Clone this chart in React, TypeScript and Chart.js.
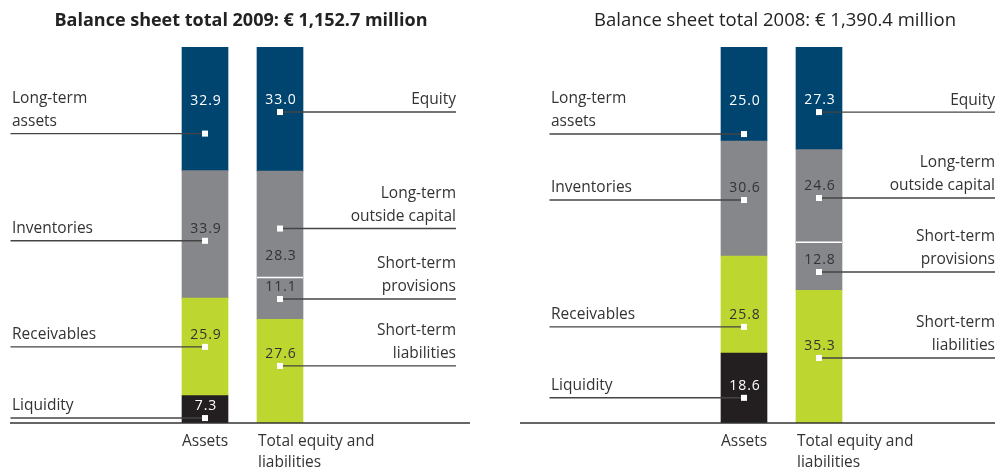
import React, { useEffect, useRef } from "react";
import { Chart, registerables } from "chart.js";

Chart.register(...registerables);

// ---------- data ----------
const categoryLines: string[][] = [["Assets"], ["Total equity and", "liabilities"]];

// bottom -> top
const assetNames: string[][] = [["Liquidity"], ["Receivables"], ["Inventories"], ["Long-term", "assets"]];
const liabilityNames: string[][] = [
  ["Short-term", "liabilities"],
  ["Short-term", "provisions"],
  ["Long-term", "outside capital"],
  ["Equity"],
];

const assets2009 = [7.3, 25.9, 33.9, 32.9];
const liabilities2009 = [27.6, 11.1, 28.3, 33.0];
const assets2008 = [18.6, 25.8, 30.6, 25.0];
const liabilities2008 = [35.3, 12.8, 24.6, 27.3];

const title2009 = "Balance sheet total 2009: € 1,152.7 million";
const title2008 = "Balance sheet total 2008: € 1,390.4 million";

// ---------- styles / layout ----------
const NAVY = "#004470";
const GRAY = "#86878b";
const GREEN = "#bed630";
const BLACK = "#231f20";
const TEXT = "#333333";
const assetColors = [BLACK, GREEN, GRAY, NAVY];
const liabilityColors = [GREEN, GRAY, GRAY, NAVY];
const assetTextColors = ["#ffffff", TEXT, TEXT, "#ffffff"];
const liabilityTextColors = [TEXT, TEXT, TEXT, "#ffffff"];

const FONT = '"Open Sans", "Noto Sans", sans-serif';

type Panel = {
  title: string;
  bold: boolean;
  titleSize: number;
  assets: number[];
  liabilities: number[];
  assetFrac: number[]; // leader position inside each segment (fraction from its top)
  liabFrac: number[];
  assetNum: string[]; // where the value sits relative to the marker
  liabNum: string[];
  left: number;
  width: number;
  padLeft: number;
  titleX: number;
  baseFrom: number;
  baseTo: number;
};

const panels: Panel[] = [
  {
    title: title2009,
    bold: true,
    titleSize: 18,
    assets: assets2009,
    liabilities: liabilities2009,
    assetFrac: [0.82, 0.5, 0.55, 0.7],
    liabFrac: [0.45, 0.516, 0.54, 0.524],
    assetNum: ["above", "above", "above", "top"],
    liabNum: ["above", "above", "below", "above"],
    left: 0,
    width: 490,
    padLeft: 167.5,
    titleX: 241,
    baseFrom: 10,
    baseTo: 470,
  },
  {
    title: title2008,
    bold: false,
    titleSize: 18.5,
    assets: assets2008,
    liabilities: liabilities2008,
    assetFrac: [0.64, 0.73, 0.513, 0.926],
    liabFrac: [0.51, 0.62, 0.523, 0.634],
    assetNum: ["above", "above", "above", "top"],
    liabNum: ["above", "above", "above", "above"],
    left: 510,
    width: 488,
    padLeft: 196.5,
    titleX: 265,
    baseFrom: 10,
    baseTo: 485,
  },
];

function makePlugin(p: Panel) {
  return {
    id: "balanceAnnotations",
    afterDatasetsDraw(chart: any) {
      const ctx: CanvasRenderingContext2D = chart.ctx;
      const area = chart.chartArea;
      const labelLeftX = area.left - 155.5;
      const labelRightX = area.right + 138.5;
      ctx.save();

      // separator between the two gray liability segments
      const stp = chart.getDatasetMeta(5).data[1];
      if (stp) {
        ctx.strokeStyle = "#ffffff";
        ctx.lineWidth = 1.5;
        ctx.beginPath();
        ctx.moveTo(stp.x - stp.width / 2, stp.y);
        ctx.lineTo(stp.x + stp.width / 2, stp.y);
        ctx.stroke();
      }

      // baseline
      ctx.strokeStyle = "#333333";
      ctx.lineWidth = 1.5;
      ctx.beginPath();
      ctx.moveTo(p.baseFrom, area.bottom);
      ctx.lineTo(p.baseTo, area.bottom);
      ctx.stroke();

      const items: any[] = [];
      for (let i = 0; i < 4; i++) {
        items.push({ ds: i, idx: 0, frac: p.assetFrac[i], num: p.assetNum[i], value: p.assets[i], names: assetNames[i], color: assetTextColors[i], side: "left" });
        items.push({ ds: 4 + i, idx: 1, frac: p.liabFrac[i], num: p.liabNum[i], value: p.liabilities[i], names: liabilityNames[i], color: liabilityTextColors[i], side: "right" });
      }

      for (const it of items) {
        const el = chart.getDatasetMeta(it.ds).data[it.idx];
        if (!el) continue;
        const top = el.y;
        const bottom = el.base;
        const sq = top + (bottom - top) * it.frac;
        const cx = el.x;
        // leader line
        ctx.strokeStyle = "#444444";
        ctx.lineWidth = 1.4;
        ctx.beginPath();
        if (it.side === "left") {
          ctx.moveTo(labelLeftX - 1.5, sq);
          ctx.lineTo(cx, sq);
        } else {
          ctx.moveTo(cx, sq);
          ctx.lineTo(labelRightX, sq);
        }
        ctx.stroke();
        // white square marker
        ctx.fillStyle = "#ffffff";
        ctx.fillRect(cx - 3, sq - 3, 6, 6);
        // value
        let numY = sq - 12;
        if (it.num === "top") numY = top + 54;
        else if (it.num === "below") numY = sq + 27;
        ctx.font = `14px ${FONT}`;
        (ctx as any).letterSpacing = "1px";
        ctx.fillStyle = it.color;
        ctx.textAlign = "center";
        ctx.textBaseline = "middle";
        ctx.fillText(it.value.toFixed(1), cx + 1, numY);
        (ctx as any).letterSpacing = "0px";
        // name label
        ctx.font = `15.5px ${FONT}`;
        ctx.fillStyle = TEXT;
        ctx.textAlign = it.side === "left" ? "left" : "right";
        const lines: string[] = it.names;
        const x = it.side === "left" ? labelLeftX : labelRightX;
        lines.forEach((ln, k) => {
          const y = sq - 12 - (lines.length - 1 - k) * 23;
          ctx.fillText(ln, x, y);
        });
      }

      // category labels
      ctx.font = `15.5px ${FONT}`;
      ctx.fillStyle = TEXT;
      ctx.textAlign = "left";
      ctx.textBaseline = "middle";
      for (let c = 0; c < 2; c++) {
        const el = chart.getDatasetMeta(c === 0 ? 0 : 4).data[c];
        if (!el) continue;
        const lx = el.x - el.width / 2 + (c === 0 ? 0 : 1);
        categoryLines[c].forEach((ln, k) => ctx.fillText(ln, lx, area.bottom + 19 + k * 21));
      }

      // title
      ctx.font = `${p.bold ? "bold " : ""}${p.titleSize}px ${FONT}`;
      ctx.fillStyle = "#222222";
      ctx.textAlign = "center";
      ctx.textBaseline = "middle";
      ctx.fillText(p.title, p.titleX, 21);

      ctx.restore();
    },
  };
}

function PanelChart({ p }: { p: Panel }) {
  const ref = useRef<HTMLCanvasElement | null>(null);
  useEffect(() => {
    if (!ref.current) return;
    const datasets: any[] = [];
    for (let i = 0; i < 4; i++) {
      datasets.push({
        label: assetNames[i].join(" "),
        data: [p.assets[i], null],
        backgroundColor: assetColors[i],
        stack: "s",
        barThickness: 46,
      });
    }
    for (let i = 0; i < 4; i++) {
      datasets.push({
        label: liabilityNames[i].join(" "),
        data: [null, p.liabilities[i]],
        backgroundColor: liabilityColors[i],
        stack: "s",
        barThickness: 46,
      });
    }
    const chart = new Chart(ref.current, {
      type: "bar",
      data: { labels: categoryLines.map((l) => l.join(" ")), datasets },
      options: {
        responsive: false,
        animation: false,
        layout: { padding: { left: p.padLeft, right: p.width - p.padLeft - 150, top: 47, bottom: 53 } },
        scales: {
          x: { display: false, stacked: true },
          y: { display: false, stacked: true, min: 0, max: 100 },
        },
        plugins: { legend: { display: false }, tooltip: { enabled: false }, title: { display: false } },
      },
      plugins: [makePlugin(p)],
    } as any);
    return () => chart.destroy();
  }, [p]);
  return (
    <canvas
      ref={ref}
      width={p.width}
      height={476}
      style={{ position: "absolute", left: p.left, top: 0, width: p.width, height: 476 }}
    />
  );
}

export default function App() {
  return (
    <div style={{ position: "absolute", left: 0, top: 0, width: 998, height: 476, overflow: "hidden", background: "#ffffff" }}>
      {panels.map((p, i) => (
        <PanelChart key={i} p={p} />
      ))}
    </div>
  );
}
